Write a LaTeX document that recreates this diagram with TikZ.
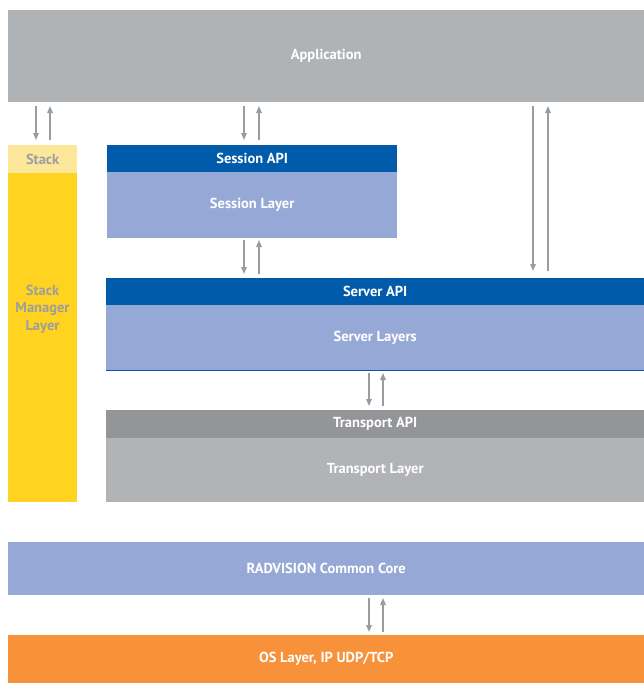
\documentclass[tikz,border=0pt]{standalone}
\usepackage{fontspec}
\setmainfont{PT Sans}
\usetikzlibrary{arrows.meta}
\definecolor{appgray}{HTML}{B0B3B5}
\definecolor{dkblue}{HTML}{005BAA}
\definecolor{ltblue}{HTML}{96A9D6}
\definecolor{tpgray}{HTML}{939598}
\definecolor{tlgray}{HTML}{B1B3B6}
\definecolor{ltyel}{HTML}{FDE79A}
\definecolor{yel}{HTML}{FFD31F}
\definecolor{orng}{HTML}{F7923A}
\definecolor{arrgray}{HTML}{9A9C9E}
\definecolor{stxt}{HTML}{9C9EA1}
\tikzset{
  lbl/.style={font=\bfseries\fontsize{14.5}{17.5}\selectfont, text=white},
  blk/.style={draw=none, inner sep=0pt, minimum width=#1, lbl, anchor=north west},
  arr/.style={draw=arrgray, line width=1.4pt, -{Triangle[width=5.5pt,length=7pt]}}
}
\begin{document}
\begin{tikzpicture}[x=1pt,y=-1pt]
\useasboundingbox (0,0) rectangle (644,683);
% Application
\node[blk=636pt, minimum height=92pt, fill=appgray] (app) at (8,10) {Application};
% Stack
\node[blk=69pt, minimum height=28pt, fill=ltyel, text=stxt] (stack) at (8,145) {Stack};
\node[blk=69pt, minimum height=329pt, fill=yel] (smgr) at (8,173) {};
\node[lbl, text=stxt, align=center, inner sep=0pt] (smtext) at (42.5,309) {Stack\\Manager\\Layer};
% Session
\node[blk=290pt, minimum height=27pt, fill=dkblue] (sapi) at (107,145) {Session API};
\node[blk=290pt, minimum height=66pt, fill=ltblue] (slay) at (107,172) {Session Layer};
% Server
\node[blk=538pt, minimum height=27pt, fill=dkblue] (vapi) at (106,278) {Server API};
\node[blk=538pt, minimum height=65pt, fill=ltblue] (vlay) at (106,305) {Server Layers};
\draw[dkblue, line width=1.3pt] (vlay.south west) -- (vlay.south east);
% Transport
\node[blk=538pt, minimum height=28pt, fill=tpgray] (tapi) at (106,410) {Transport API};
\node[blk=538pt, minimum height=64pt, fill=tlgray] (tlay) at (106,438) {Transport Layer};
% Core
\node[blk=636pt, minimum height=53pt, fill=ltblue] (core) at (8,542) {RADVISION Common Core};
% OS
\node[blk=636pt, minimum height=48pt, fill=orng] (os) at (8,635) {OS Layer, IP UDP/TCP};
% Arrows
\draw[arr] (36,106) -- (36,140);
\draw[arr] (50,140) -- (50,106);
\draw[arr] (244,106) -- (244,140);
\draw[arr] (259,140) -- (259,106);
\draw[arr] (533,106) -- (533,271);
\draw[arr] (548,271) -- (548,106);
\draw[arr] (244,240) -- (244,274);
\draw[arr] (259,274) -- (259,240);
\draw[arr] (369,373) -- (369,406);
\draw[arr] (383,406) -- (383,373);
\draw[arr] (369,598) -- (369,632);
\draw[arr] (383,632) -- (383,598);
\end{tikzpicture}
\end{document}
